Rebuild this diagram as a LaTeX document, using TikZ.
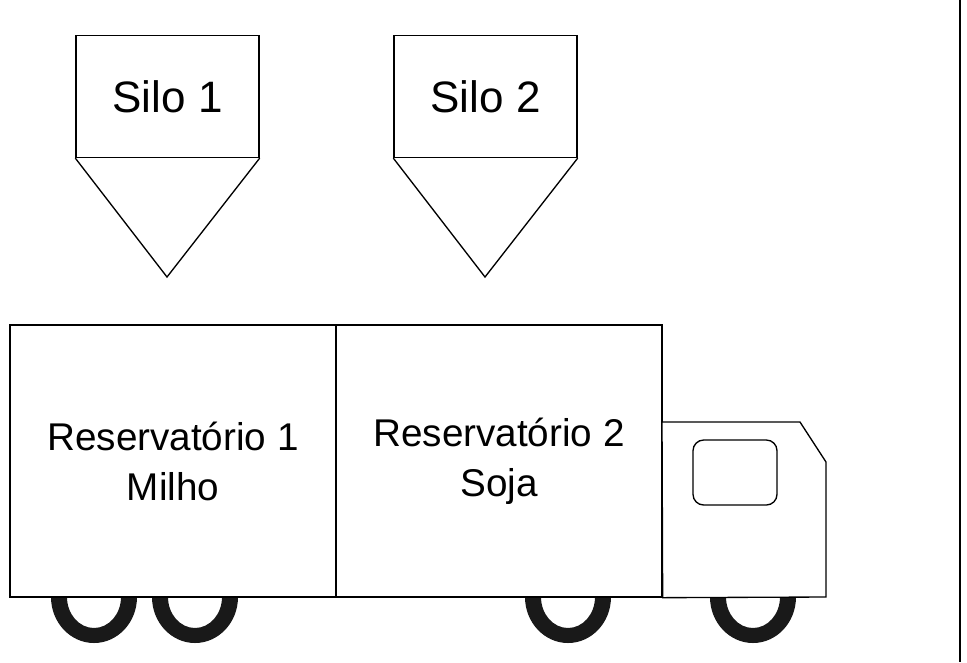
\documentclass[tikz,border=0pt]{standalone}
\usepackage{fontspec}
\setmainfont{Liberation Sans}
\begin{document}
\begin{tikzpicture}[x=0.75pt,y=-0.75pt,line width=1pt]
\tikzset{box/.style={draw, rectangle, inner sep=0pt}}
\tikzset{wheel/.style={fill=black!90, draw=none}}
\useasboundingbox (0,0) rectangle (967,662);
    \draw (960,0) -- (960,662);
    % silos
    \node[box, minimum width=183*0.75pt, minimum height=122*0.75pt, font=\fontsize{33}{38}\selectfont] (silo1) at (167.5,96.5) {Silo 1};
    \node[box, minimum width=183*0.75pt, minimum height=122*0.75pt, font=\fontsize{33}{38}\selectfont] (silo2) at (485.5,96.5) {Silo 2};
    \draw (silo1.south west) -- (167,277) -- (silo1.south east);
    \draw (silo2.south west) -- (485,277) -- (silo2.south east);
    % wheels
    \begin{scope}
    \clip (0,597) rectangle (967,662);
    \foreach \cx in {94,195,568,753}{
    \fill[wheel, even odd rule] (\cx,597) ellipse (43 and 46) (\cx,597) ellipse (27 and 31);
    }
    \end{scope}
    % truck
    \node[box, fill=white, minimum width=326*0.75pt, minimum height=272*0.75pt, align=center, font=\fontsize{29}{37.5}\selectfont] (res1) at (173,461) {Reservatório 1\\Milho};
    \node[box, fill=white, minimum width=326*0.75pt, minimum height=272*0.75pt, align=center, font=\fontsize{29}{37.5}\selectfont] (res2) at (499,461) {Reservatório 2\\Soja};
    \draw[fill=white] (res2.south east) -- (662,422) -- (800,422) -- (826,462) -- (826,597) -- cycle;
    \draw[rounded corners=8pt] (693,440) rectangle (777,505);
\end{tikzpicture}
\end{document}
